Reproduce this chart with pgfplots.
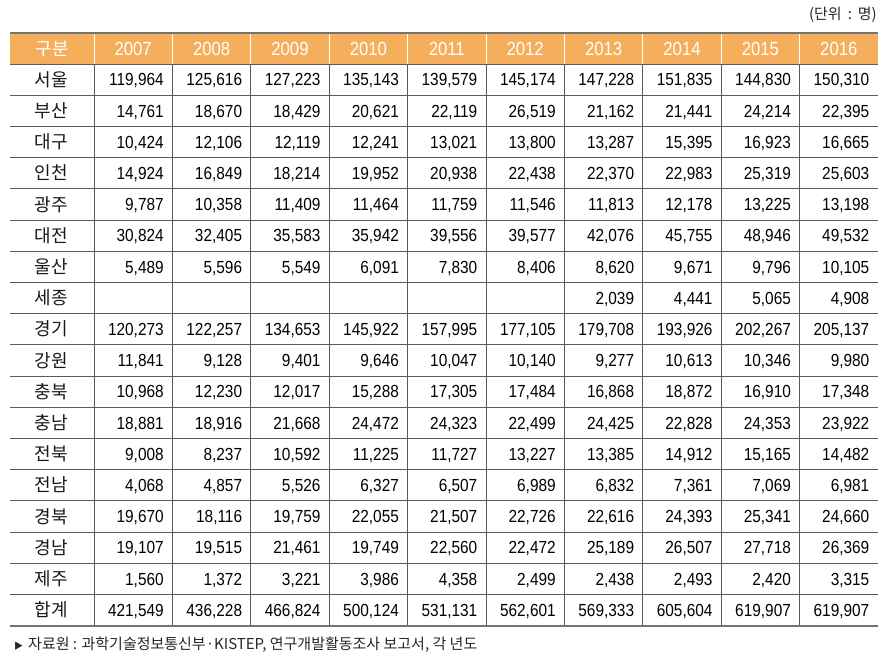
\documentclass[border=0pt]{standalone}
\usepackage{pgfplots}
\pgfplotsset{compat=1.18}
\usepackage{pgfplotstable}
\usepackage{fontspec}
\setmainfont{Liberation Sans}
\newfontfamily\numfont{Liberation Sans}[FakeStretch=0.88]
\newfontfamily\kr{Noto Sans CJK KR}
\definecolor{hdr}{HTML}{F5AE5B}
\definecolor{rulec}{HTML}{5A5A5A}

\pgfplotstableread{
row name y2007 y2008 y2009 y2010 y2011 y2012 y2013 y2014 y2015 y2016
1 서울 119964 125616 127223 135143 139579 145174 147228 151835 144830 150310
2 부산 14761 18670 18429 20621 22119 26519 21162 21441 24214 22395
3 대구 10424 12106 12119 12241 13021 13800 13287 15395 16923 16665
4 인천 14924 16849 18214 19952 20938 22438 22370 22983 25319 25603
5 광주 9787 10358 11409 11464 11759 11546 11813 12178 13225 13198
6 대전 30824 32405 35583 35942 39556 39577 42076 45755 48946 49532
7 울산 5489 5596 5549 6091 7830 8406 8620 9671 9796 10105
8 세종 nan nan nan nan nan nan 2039 4441 5065 4908
9 경기 120273 122257 134653 145922 157995 177105 179708 193926 202267 205137
10 강원 11841 9128 9401 9646 10047 10140 9277 10613 10346 9980
11 충북 10968 12230 12017 15288 17305 17484 16868 18872 16910 17348
12 충남 18881 18916 21668 24472 24323 22499 24425 22828 24353 23922
13 전북 9008 8237 10592 11225 11727 13227 13385 14912 15165 14482
14 전남 4068 4857 5526 6327 6507 6989 6832 7361 7069 6981
15 경북 19670 18116 19759 22055 21507 22726 22616 24393 25341 24660
16 경남 19107 19515 21461 19749 22560 22472 25189 26507 27718 26369
17 제주 1560 1372 3221 3986 4358 2499 2438 2493 2420 3315
18 합계 421549 436228 466824 500124 531131 562601 569333 605604 619907 619907
}\data

\pgfplotstableread{
pos year
0 2007
1 2008
2 2009
3 2010
4 2011
5 2012
6 2013
7 2014
8 2015
9 2016
}\years

\begin{document}
\begin{tikzpicture}
\begin{axis}[
  scale only axis, width=895pt, height=666pt,
  xmin=0, xmax=895, ymin=0, ymax=666, y dir=reverse,
  hide axis, clip=false, unbounded coords=discard, filter discard warning=false,
]
\path (axis cs:0,0) rectangle (axis cs:895,666);
% header band
\fill[hdr] (axis cs:10,33) rectangle (axis cs:878,64);
\pgfplotsinvokeforeach{94,172.4,250.8,329.2,407.6,486,564.4,642.8,721.2,799.6}{
  \draw[white, line width=1pt] (axis cs:#1,33) -- (axis cs:#1,64);
  \draw[rulec, line width=0.9pt] (axis cs:#1,64) -- (axis cs:#1,626);
}
\pgfplotsinvokeforeach{64,95.2,126.4,157.6,188.8,220,251.2,282.4,313.6,344.8,376,407.2,438.4,469.6,500.8,532,563.2,594.4}{
  \draw[rulec, line width=0.9pt] (axis cs:10,#1) -- (axis cs:878,#1);
}
\draw[rulec!85, line width=2pt] (axis cs:10,33) -- (axis cs:878,33);
\draw[rulec!85, line width=2pt] (axis cs:10,626) -- (axis cs:878,626);

% header years
\addplot[draw=none, mark=none, point meta=explicit symbolic,
  nodes near coords, nodes near coords align={anchor=center},
  every node near coord/.style={anchor=center, inner sep=0pt, text height=13.6pt, text depth=0pt,
     font=\numfont\fontsize{19}{22}\selectfont, text=white}]
  table[x expr={133.2+78.4*\thisrow{pos}}, y expr=48.4, meta=year] {\years};
\node[anchor=center, inner sep=0pt, text height=13.5pt, text depth=0pt, text=white,
  font=\kr\fontsize{18}{20}\selectfont] at (axis cs:52,48.4) {구분};

% region names
\addplot[draw=none, mark=none, point meta=explicit symbolic,
  nodes near coords, nodes near coords align={anchor=center},
  every node near coord/.style={anchor=center, inner sep=0pt, text height=13.5pt, text depth=0pt,
     font=\kr\fontsize{18}{20}\selectfont, text=black!90}]
  table[x expr=51, y expr={48.4+31.2*\thisrow{row}}, meta=name] {\data};

% values
\pgfplotsinvokeforeach{2007,2008,2009,2010,2011,2012,2013,2014,2015,2016}{
\addplot[draw=none, mark=none, point meta=explicit,
  nodes near coords={\pgfmathprintnumber[fixed,precision=0,1000 sep={,},assume math mode=true]{\pgfplotspointmeta}},
  nodes near coords align={anchor=east},
  every node near coord/.style={anchor=east, inner sep=0pt, text height=12.5pt, text depth=0pt,
     font=\numfont\fontsize{17.5}{20}\selectfont, text=black}]
  table[x expr={172.4+78.4*(#1-2007)-8.5},
        y expr={(48.4+31.2*\thisrow{row})*(\thisrow{y#1}/\thisrow{y#1})}, meta=y#1] {\data};
}

\node[anchor=east, inner sep=0pt, font=\kr\fontsize{15}{17}\selectfont, text=black!85]
  at (axis cs:877,15) {(단위\hspace{0.4em}:\hspace{0.4em}명)};
\node[anchor=west, inner sep=0pt, font=\kr\fontsize{15}{17}\selectfont, text=black!85]
  at (axis cs:14,645) {{\fontsize{9}{10}\selectfont ▶}\hspace{5pt}자료원 : 과학기술정보통신부·KISTEP, 연구개발활동조사 보고서, 각 년도};
\end{axis}
\end{tikzpicture}
\end{document}
